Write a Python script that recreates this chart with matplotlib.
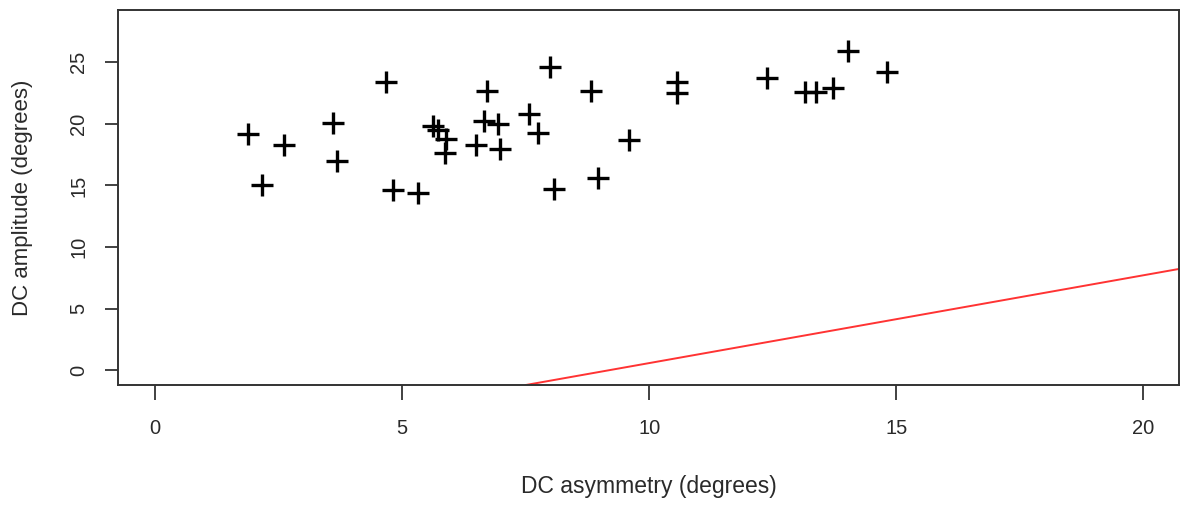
import matplotlib
matplotlib.use("Agg")
import matplotlib.pyplot as plt

# Data
dc_asymmetry = [1.88, 2.16, 2.61, 3.60, 3.68, 4.67, 4.81, 5.32, 5.62, 5.72,
                5.88, 5.86, 6.49, 6.65, 6.71, 6.94, 6.98, 7.56, 7.74, 7.99,
                8.07, 8.82, 8.96, 9.59, 10.56, 10.56, 12.38, 13.16, 13.37, 13.71,
                14.03, 14.81]
dc_amplitude = [19.2, 15.0, 18.3, 20.1, 17.0, 23.4, 14.6, 14.4, 19.8, 19.5,
                18.8, 17.6, 18.3, 20.2, 22.7, 20.0, 18.0, 20.8, 19.3, 24.6,
                14.7, 22.7, 15.6, 18.7, 23.4, 22.5, 23.7, 22.6, 22.6, 22.9,
                25.9, 24.2]
line_intercept = -6.55
line_slope = 0.713

x_ticks = [0, 5, 10, 15, 20]
y_ticks = [0, 5, 10, 15, 20, 25]

plt.rcParams['font.family'] = ['Liberation Sans', 'DejaVu Sans']

W, H = 1195, 507
fig = plt.figure(figsize=(W / 100, H / 100), dpi=100)
L, R, T, B = 118, 1179, 10, 385
ax = fig.add_axes([L / W, 1 - B / H, (R - L) / W, (B - T) / H])

ax.plot(dc_asymmetry, dc_amplitude, linestyle='none', marker='+',
        markersize=16.5, markeredgewidth=2.4, color='black')
ax.axline((0, line_intercept), slope=line_slope, color='#ff3333', linewidth=1.4)

ax.set_xlim(-0.75, 20.72)
ax.set_ylim(-1.2, 29.25)
ax.set_xticks(x_ticks)
ax.set_yticks(y_ticks)
txt = '#2a2a2a'
ax.set_xticklabels([str(t) for t in x_ticks], fontsize=14.5, color=txt)
ax.set_yticklabels([str(t) for t in y_ticks], fontsize=14.5, color=txt,
                   rotation=90, va='center')
ax.tick_params(axis='x', length=10.5, width=1.3, pad=14, color='#333333')
ax.tick_params(axis='y', length=9.5, width=1.3, pad=12, color='#333333')
for s in ax.spines.values():
    s.set_linewidth(1.4)
    s.set_color('#333333')

ax.set_xlabel('DC asymmetry (degrees)', fontsize=16.5, color=txt, va='center')
ax.xaxis.set_label_coords(0.5, (B - 487) / (B - T))
ax.set_ylabel('DC amplitude (degrees)', fontsize=16, color=txt, va='center')
ax.yaxis.set_label_coords((23 - L) / (R - L), 0.5)

fig.savefig('out.png', dpi=100)
